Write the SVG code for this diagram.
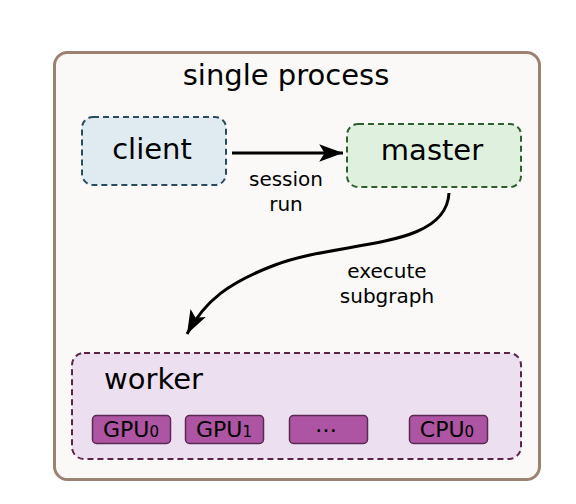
<svg xmlns="http://www.w3.org/2000/svg" width="576" height="504" viewBox="0 0 576 504">
<defs>
<style>
text{font-family:"DejaVu Sans","Liberation Sans",sans-serif;fill:#000}
.big{font-size:29px}
.lbl{font-size:20px;text-anchor:middle}
.dev{fill:#ad55a2;stroke:#5a2a55;stroke-width:1.5}
.devt{font-size:22px;text-anchor:middle}
.edge{fill:none;stroke:#000;stroke-width:3}
</style>
<marker id="ah" markerUnits="userSpaceOnUse" markerWidth="26" markerHeight="20" viewBox="-22 -9 24 18" refX="0" refY="0" orient="auto">
<path d="M0,0 L-22,-8 L-17,0 L-22,8 Z" fill="#000"/>
</marker>
</defs>
<rect width="576" height="504" fill="#fff"/>
<g id="process">
<rect x="54.5" y="52.5" width="485" height="427" rx="13" fill="#faf9f7" stroke="#9c8272" stroke-width="3"/>
<text class="big" x="286" y="85" text-anchor="middle">single process</text>
</g>
<g id="client">
<rect x="82" y="117" width="144" height="68" rx="11" fill="#e0ebf1" stroke="#2b4b5e" stroke-width="2" stroke-dasharray="6,4"/>
<text class="big" x="152" y="159" text-anchor="middle">client</text>
</g>
<g id="master">
<rect x="347" y="124" width="174" height="63" rx="11" fill="#e0f0df" stroke="#2f5e2f" stroke-width="2" stroke-dasharray="6,4"/>
<text class="big" x="432" y="160" text-anchor="middle">master</text>
</g>
<g id="worker">
<rect x="72" y="353" width="449" height="106" rx="12" fill="#ecdff0" stroke="#5e2248" stroke-width="2" stroke-dasharray="6,4"/>
<text class="big" x="104" y="389">worker</text>
<g id="gpu0"><rect class="dev" x="92.5" y="415.5" width="78" height="28" rx="4"/><text class="devt" x="131" y="437">GPU<tspan font-size="15">0</tspan></text></g>
<g id="gpu1"><rect class="dev" x="185.5" y="415.5" width="78" height="28" rx="4"/><text class="devt" x="224" y="437">GPU<tspan font-size="15">1</tspan></text></g>
<g id="more"><rect class="dev" x="289.5" y="415.5" width="78" height="28" rx="4"/><text class="devt" x="326" y="432" font-size="19">…</text></g>
<g id="cpu0"><rect class="dev" x="409.5" y="415.5" width="78" height="28" rx="4"/><text class="devt" x="447" y="437">CPU<tspan font-size="15">0</tspan></text></g>
</g>
<g id="connectors">
<path class="edge" d="M232,153 L343,153" marker-end="url(#ah)"/>
<text class="lbl" x="286" y="186">session</text>
<text class="lbl" x="286" y="211">run</text>
<path class="edge" d="M449,193 C446,250 340,240 275,265 C230,282 205,300 187,334" marker-end="url(#ah)"/>
<text class="lbl" x="387" y="278">execute</text>
<text class="lbl" x="387" y="303">subgraph</text>
</g>
</svg>
